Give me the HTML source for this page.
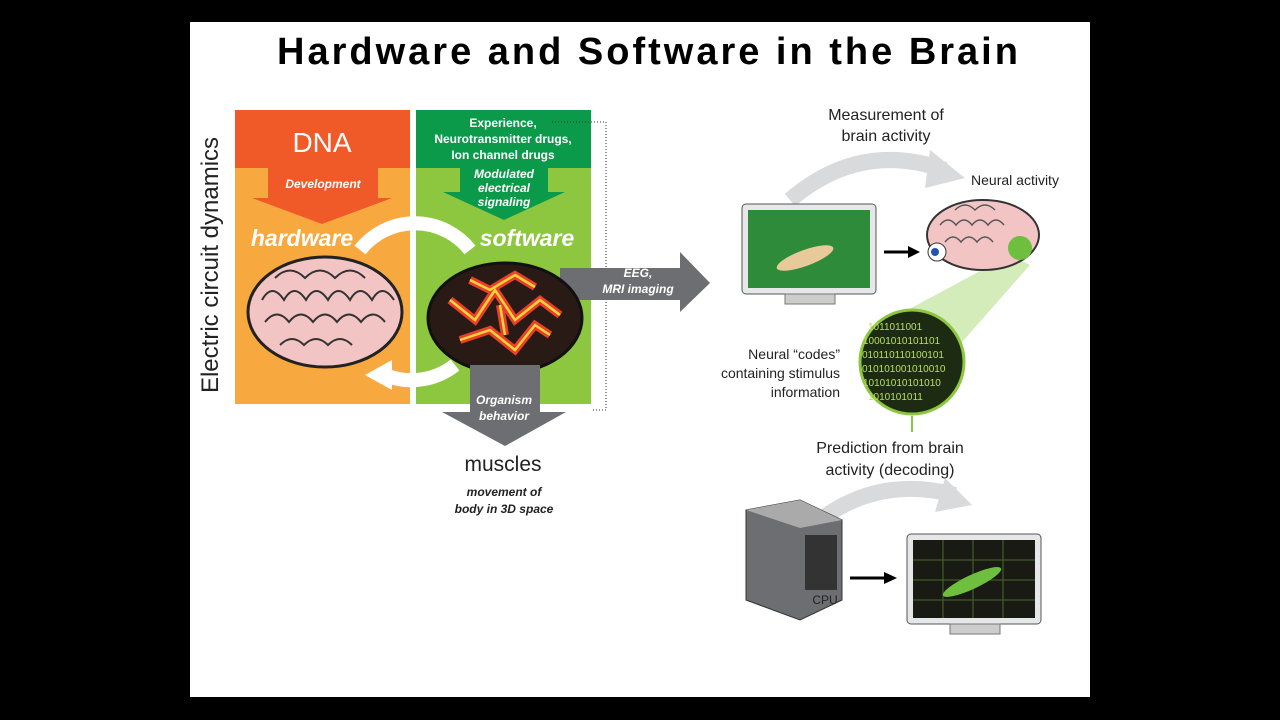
<!DOCTYPE html>
<html><head><meta charset="utf-8"><style>
html,body{margin:0;padding:0;background:#000;width:1280px;height:720px;overflow:hidden}
svg{display:block}
text{font-family:"Liberation Sans",sans-serif}
</style></head><body>
<svg width="1280" height="720" viewBox="0 0 1280 720">
<rect x="0" y="0" width="1280" height="720" fill="#000"/>
<rect x="190" y="22" width="900" height="675" fill="#fff"/>
<text x="649" y="64" text-anchor="middle" font-size="38" font-weight="bold" letter-spacing="3">Hardware and Software in the Brain</text>

<text transform="translate(218,265) rotate(-90)" text-anchor="middle" font-size="24" fill="#222">Electric circuit dynamics</text>

<rect x="235" y="110" width="175" height="294" fill="#f7a93f"/>
<rect x="235" y="110" width="175" height="58" fill="#f05a28"/>
<text x="322" y="152" text-anchor="middle" font-size="28" fill="#fff">DNA</text>
<polygon points="268,168 378,168 378,198 392,198 322,224 252,198 268,198" fill="#f05a28"/>
<text x="323" y="188" text-anchor="middle" font-size="12" font-weight="bold" font-style="italic" fill="#fff">Development</text>
<text x="302" y="246" text-anchor="middle" font-size="23" font-weight="bold" font-style="italic" fill="#fff">hardware</text>

<rect x="416" y="110" width="175" height="294" fill="#8dc63f"/>
<rect x="416" y="110" width="175" height="58" fill="#0a9a4a"/>
<text x="503" y="127" text-anchor="middle" font-size="12" font-weight="bold" fill="#fff">Experience,</text>
<text x="503" y="143" text-anchor="middle" font-size="12" font-weight="bold" fill="#fff">Neurotransmitter drugs,</text>
<text x="503" y="159" text-anchor="middle" font-size="12" font-weight="bold" fill="#fff">Ion channel drugs</text>
<polygon points="460,166 548,166 548,192 565,192 504,220 443,192 460,192" fill="#0a9a4a"/>
<text x="504" y="178" text-anchor="middle" font-size="12" font-weight="bold" font-style="italic" fill="#fff">Modulated</text>
<text x="504" y="192" text-anchor="middle" font-size="12" font-weight="bold" font-style="italic" fill="#fff">electrical</text>
<text x="504" y="206" text-anchor="middle" font-size="12" font-weight="bold" font-style="italic" fill="#fff">signaling</text>
<text x="527" y="246" text-anchor="middle" font-size="23" font-weight="bold" font-style="italic" fill="#fff">software</text>
<polyline points="552,122 606,122 606,410 591,410" fill="none" stroke="#333" stroke-dasharray="1,2"/>

<path d="M360,250 A70,70 0 0 1 470,250" fill="none" stroke="#fff" stroke-width="14"/>
<path d="M455,365 A70,70 0 0 1 385,375" fill="none" stroke="#fff" stroke-width="14"/>
<polygon points="365,375 392,360 392,390" fill="#fff"/>

<polygon points="560,268 680,268 680,252 710,283 680,312 680,300 560,300" fill="#6d6e71"/>
<text x="638" y="277" text-anchor="middle" font-size="12" font-weight="bold" font-style="italic" fill="#fff">EEG,</text>
<text x="638" y="293" text-anchor="middle" font-size="12" font-weight="bold" font-style="italic" fill="#fff">MRI imaging</text>

<ellipse cx="325" cy="312" rx="77" ry="55" fill="#f2c4c4" stroke="#222" stroke-width="3"/>
<path d="M262,300 q10,-18 22,0 q10,-18 22,0 q10,-18 22,0 q10,-18 22,0 q10,-18 22,0 q10,-18 22,0 M265,322 q12,-15 24,0 q12,-15 24,0 q12,-15 24,0 q12,-15 24,0 q12,-15 24,0 M275,278 q15,-15 30,0 q15,-15 30,0 q15,-15 30,0 M280,345 q12,-12 24,0 q12,-12 24,0 q12,-12 24,0" fill="none" stroke="#333" stroke-width="2"/>
<ellipse cx="505" cy="318" rx="77" ry="55" fill="#2a1a16" stroke="#111" stroke-width="3"/>
<path d="M450,300 l25,20 l20,-30 l20,30 l25,-20 l20,15 M460,340 l30,-10 l25,20 l20,-25 l15,10 M470,280 l20,10 l25,-15 l20,12 M500,305 l5,30" fill="none" stroke="#e8402a" stroke-width="8"/>
<path d="M450,300 l25,20 l20,-30 l20,30 l25,-20 l20,15 M460,340 l30,-10 l25,20 l20,-25 l15,10 M470,280 l20,10 l25,-15 l20,12 M500,305 l5,30" fill="none" stroke="#ffd33a" stroke-width="2.5"/>

<polygon points="470,365 540,365 540,412 566,412 505,446 442,412 470,412" fill="#6d6e71"/>
<text x="504" y="404" text-anchor="middle" font-size="12" font-weight="bold" font-style="italic" fill="#fff">Organism</text>
<text x="504" y="420" text-anchor="middle" font-size="12" font-weight="bold" font-style="italic" fill="#fff">behavior</text>
<text x="503" y="471" text-anchor="middle" font-size="21" fill="#222">muscles</text>
<text x="504" y="496" text-anchor="middle" font-size="12" font-weight="bold" font-style="italic" fill="#222">movement of</text>
<text x="504" y="513" text-anchor="middle" font-size="12" font-weight="bold" font-style="italic" fill="#222">body in 3D space</text>

<text x="886" y="120" text-anchor="middle" font-size="16" fill="#222">Measurement of</text>
<text x="886" y="141" text-anchor="middle" font-size="16" fill="#222">brain activity</text>
<path d="M790,200 Q860,140 945,170" fill="none" stroke="#d9dadb" stroke-width="16"/>
<polygon points="930,150 965,178 925,188" fill="#d9dadb"/>
<text x="1015" y="185" text-anchor="middle" font-size="14" fill="#222">Neural activity</text>

<rect x="742" y="204" width="134" height="90" rx="4" fill="#e6e7e8" stroke="#555"/>
<rect x="748" y="210" width="122" height="78" fill="#2e8b3a"/>
<ellipse cx="805" cy="258" rx="30" ry="8" fill="#e8c99a" transform="rotate(-20 805 258)"/>
<rect x="785" y="294" width="50" height="10" fill="#ccc" stroke="#777"/>
<line x1="884" y1="252" x2="910" y2="252" stroke="#000" stroke-width="3"/>
<polygon points="920,252 908,246 908,258" fill="#000"/>

<polygon points="1010,255 1030,265 955,350 870,330" fill="#c9e7a8" opacity="0.8"/>
<ellipse cx="983" cy="235" rx="56" ry="35" fill="#f2c4c4" stroke="#333" stroke-width="2"/>
<path d="M940,225 q8,-10 16,0 q8,-10 16,0 q8,-10 16,0 q8,-10 16,0 M945,242 q8,-10 16,0 q8,-10 16,0 q8,-10 16,0 M955,210 q10,-10 20,0 q10,-10 20,0" fill="none" stroke="#555" stroke-width="1.5"/>
<circle cx="1020" cy="248" r="12" fill="#6fbf3f"/>
<circle cx="937" cy="252" r="9" fill="#fff" stroke="#333"/>
<circle cx="935" cy="252" r="4" fill="#2255aa"/>

<circle cx="912" cy="362" r="52" fill="#1d2b12" stroke="#8dc63f" stroke-width="3"/>
<g font-family="Liberation Mono" font-size="10" fill="#b6e05a">
<text x="868" y="330">1011011001</text>
<text x="863" y="344">10001010101101</text>
<text x="862" y="358">010110110100101</text>
<text x="862" y="372">010101001010010</text>
<text x="863" y="386">10101010101010</text>
<text x="868" y="400">1010101011</text>
</g>
<line x1="912" y1="416" x2="912" y2="432" stroke="#8dc63f" stroke-width="2"/>
<text x="840" y="359" text-anchor="end" font-size="14" fill="#222">Neural “codes”</text>
<text x="840" y="378" text-anchor="end" font-size="14" fill="#222">containing stimulus</text>
<text x="840" y="397" text-anchor="end" font-size="14" fill="#222">information</text>

<text x="890" y="453" text-anchor="middle" font-size="16" fill="#222">Prediction from brain</text>
<text x="890" y="475" text-anchor="middle" font-size="16" fill="#222">activity (decoding)</text>
<path d="M820,520 Q880,475 955,495" fill="none" stroke="#d9dadb" stroke-width="16"/>
<polygon points="945,478 972,505 935,512" fill="#d9dadb"/>

<polygon points="746,510 800,500 842,520 842,600 800,620 746,600" fill="#6d6e71" stroke="#333"/>
<polygon points="746,510 800,500 842,520 800,528" fill="#aaa"/>
<rect x="805" y="535" width="32" height="55" fill="#333"/>
<text x="825" y="604" text-anchor="middle" font-size="12" fill="#222">CPU</text>
<line x1="850" y1="578" x2="885" y2="578" stroke="#000" stroke-width="3"/>
<polygon points="897,578 884,572 884,584" fill="#000"/>

<rect x="907" y="534" width="134" height="90" rx="4" fill="#e6e7e8" stroke="#555"/>
<rect x="913" y="540" width="122" height="78" fill="#1a1a14"/>
<g stroke="#4a6a2a" stroke-width="1">
<line x1="913" y1="560" x2="1035" y2="560"/><line x1="913" y1="580" x2="1035" y2="580"/><line x1="913" y1="600" x2="1035" y2="600"/>
<line x1="943" y1="540" x2="943" y2="618"/><line x1="973" y1="540" x2="973" y2="618"/><line x1="1003" y1="540" x2="1003" y2="618"/>
</g>
<ellipse cx="972" cy="582" rx="32" ry="7" fill="#6fbf3f" transform="rotate(-25 972 582)"/>
<rect x="950" y="624" width="50" height="10" fill="#ccc" stroke="#777"/>
</svg>
</body></html>
